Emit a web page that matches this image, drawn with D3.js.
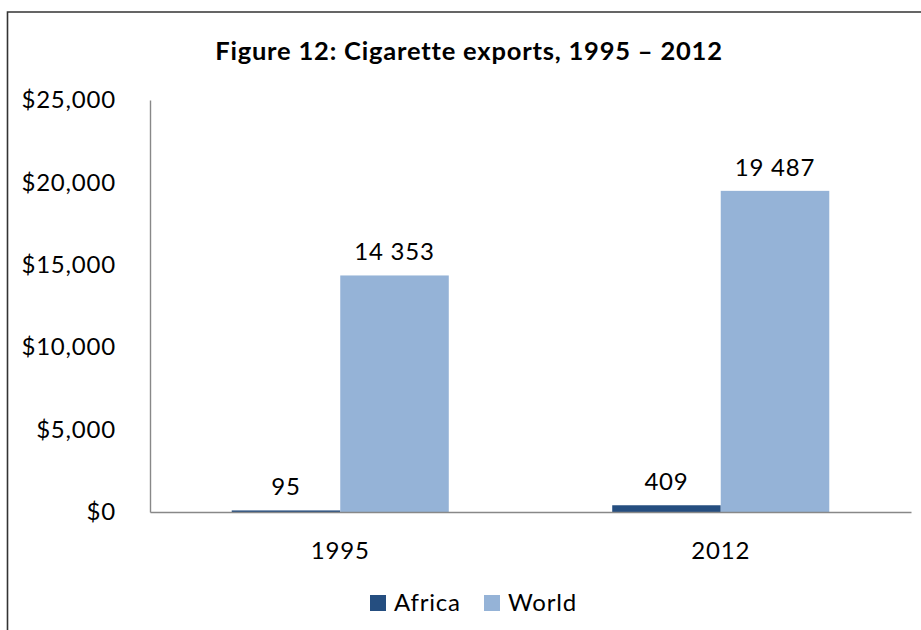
<!DOCTYPE html>
<html><head><meta charset="utf-8">
<script src="https://cdn.jsdelivr.net/npm/d3@7"></script>
<style>html,body{margin:0;padding:0;background:#fff;}svg{display:block;}</style>
</head><body>
<svg id="c" width="921" height="630"></svg>
<script>
const categories = ["1995", "2012"];
const seriesNames = ["Africa", "World"];
const africa = [95, 409];
const world = [14353, 19487];
const labels = ["95", "409", "14 353", "19 487"];
const yTicks = [0, 5000, 10000, 15000, 20000, 25000];
const colors = ["#254E80", "#95B3D7"];
const title = "Figure 12: Cigarette exports, 1995 – 2012";

const svg = d3.select("#c");
const font = "Lato, 'Open Sans', sans-serif";
const ls = "0.8px";

// outer frame (left and top visible)
svg.append("path").attr("d", "M7.5,630 V12 H921").attr("fill","none").attr("stroke","#333").attr("stroke-width",1.6);

const x0 = d3.scaleBand().domain(categories).range([150, 911]).paddingInner(0).paddingOuter(0);
const x1 = d3.scaleBand().domain(seriesNames).range([0, x0.bandwidth()]).paddingInner(0).paddingOuter(0.753);
const y = d3.scaleLinear().domain([0, 25000]).range([512, 100]);

svg.append("text").attr("x", 469).attr("y", 60).attr("text-anchor","middle")
  .attr("font-family", font).attr("font-weight","bold").attr("font-size", 25.5).attr("letter-spacing","0.8px")
  .attr("fill","#000").text(title);

// y axis
const yAxis = d3.axisLeft(y).tickValues(yTicks).tickSize(0).tickPadding(34)
  .tickFormat(d => "$" + d3.format(",")(d));
const gy = svg.append("g").attr("transform","translate(150,0)").call(yAxis);
gy.select(".domain").attr("stroke","#888").attr("stroke-width",1.4);
gy.selectAll("text").attr("font-family", font).attr("font-size", 24).attr("letter-spacing", ls).attr("fill","#000");

const data = [];
categories.forEach((c, i) => {
  data.push({cat: c, s: "Africa", v: africa[i], lab: labels[i]});
  data.push({cat: c, s: "World", v: world[i], lab: labels[2 + i]});
});

svg.selectAll("rect.bar").data(data).enter().append("rect").attr("class","bar")
  .attr("x", d => x0(d.cat) + x1(d.s)).attr("width", x1.bandwidth())
  .attr("y", d => y(d.v)).attr("height", d => y(0) - y(d.v))
  .attr("fill", d => colors[seriesNames.indexOf(d.s)]);

svg.selectAll("text.lab").data(data).enter().append("text").attr("class","lab")
  .attr("x", d => x0(d.cat) + x1(d.s) + x1.bandwidth()/2).attr("y", d => y(d.v) - 15)
  .attr("text-anchor","middle").attr("font-family", font).attr("font-size", 24).attr("letter-spacing", ls).attr("fill","#000")
  .text(d => d.lab);

// x axis
const xAxis = d3.axisBottom(x0).tickSize(0).tickPadding(30);
const gx = svg.append("g").attr("transform","translate(0,512)").call(xAxis);
gx.select(".domain").attr("stroke","#888").attr("stroke-width",1.4);
gx.selectAll("text").attr("font-family", font).attr("font-size", 24).attr("letter-spacing", ls).attr("fill","#000");

// legend
const legX = [370, 484];
seriesNames.forEach((s, i) => {
  svg.append("rect").attr("x", legX[i]).attr("y", 595).attr("width", 16).attr("height", 16).attr("fill", colors[i]);
  svg.append("text").attr("x", legX[i] + 24).attr("y", 611).attr("font-family", font).attr("font-size", 24).attr("letter-spacing", ls).attr("fill","#000").text(s);
});
</script>
</body></html>
